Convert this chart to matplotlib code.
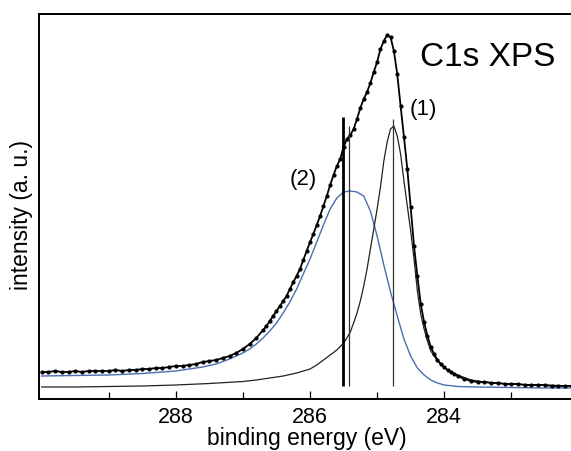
import matplotlib
matplotlib.use("Agg")
import matplotlib.pyplot as plt

plt.rcParams['font.family'] = ['Liberation Sans', 'DejaVu Sans']

# measured spectrum (binding energy in eV, intensity in a.u.)
data_energy = [
    290.0, 289.9, 289.8, 289.7, 289.6, 289.5, 289.4, 289.3, 289.2, 289.1,
    289.0, 288.9, 288.8, 288.7, 288.6, 288.5, 288.4, 288.3, 288.2, 288.1,
    288.0, 287.9, 287.8, 287.7, 287.6, 287.5, 287.4, 287.3, 287.2, 287.1,
    287.0, 286.9, 286.8, 286.7,
    286.65, 286.60, 286.55, 286.50, 286.45, 286.40, 286.35, 286.30, 286.25, 286.20,
    286.15, 286.10, 286.05, 286.00, 285.95, 285.90, 285.85, 285.80, 285.75, 285.70,
    285.65, 285.60, 285.55, 285.50, 285.45, 285.40, 285.35, 285.30, 285.25, 285.20,
    285.15, 285.10, 285.05, 285.00, 284.95, 284.90, 284.85, 284.80, 284.75, 284.70,
    284.65, 284.60, 284.55, 284.50, 284.45, 284.40, 284.35, 284.30, 284.25, 284.20,
    284.15, 284.10, 284.05, 284.00, 283.95, 283.90, 283.85, 283.80,
    283.7, 283.6, 283.5, 283.4, 283.3, 283.2, 283.1, 283.0, 282.9, 282.8,
    282.7, 282.6, 282.5, 282.4, 282.3, 282.2, 282.1,
]
data_intensity = [
    27, 27, 28, 27, 27, 28, 27, 28, 28, 28,
    28, 29, 28, 29, 29, 30, 30, 31, 31, 32,
    33, 33, 34, 35, 37, 38, 39, 41, 43, 46,
    50, 55, 61, 69,
    73, 78, 83, 88, 93, 98, 103, 110, 117, 123,
    130, 139, 148, 157, 165, 174, 183, 193, 203, 214,
    224, 233, 240, 252, 260, 264, 270, 280, 291, 300,
    307, 316, 327, 337, 350, 358, 364, 362, 348, 325,
    293, 262, 230, 192, 153, 123, 95, 77, 63, 52,
    45, 39, 35, 32, 29, 27, 25, 23,
    20, 18, 17, 17, 16, 16, 15, 15, 15, 14,
    14, 14, 14, 13, 13, 13, 13,
]

# fitted component (1)
peak1_energy = [
    290.0, 289.5, 289.0, 288.5, 288.0, 287.5, 287.0, 286.8, 286.6, 286.4,
    286.2, 286.0, 285.9, 285.8, 285.7, 285.6, 285.5, 285.45, 285.40, 285.35,
    285.30, 285.25, 285.20, 285.15, 285.10, 285.05, 285.00, 284.95, 284.90, 284.85,
    284.80, 284.75, 284.70, 284.65, 284.60, 284.55, 284.50, 284.45, 284.40, 284.35,
    284.30, 284.25, 284.20, 284.10, 284.00, 283.9, 283.8, 283.6, 283.4, 283.2,
    283.0, 282.8, 282.5, 282.1,
]
peak1_intensity = [
    12, 12, 12.5, 13, 14, 15.5, 17.5, 19, 21, 23,
    26, 30, 34, 39, 44, 49, 56, 61, 67, 76,
    86, 98, 113, 130, 150, 170, 190, 212, 238, 257,
    270, 273, 263, 245, 218, 193, 168, 140, 108, 85,
    70, 58, 48, 38, 31, 27, 24, 19, 17, 16,
    15, 14.5, 14, 13,
]

# fitted component (2)
peak2_energy = [
    290.0, 289.5, 289.0, 288.5, 288.0, 287.8, 287.6, 287.4, 287.2, 287.0,
    286.9, 286.8, 286.7, 286.6, 286.5, 286.4, 286.3, 286.2, 286.1, 286.0,
    285.9, 285.8, 285.7, 285.6, 285.5, 285.4, 285.3, 285.2, 285.1, 285.0,
    284.9, 284.8, 284.7, 284.6, 284.5, 284.4, 284.3, 284.2, 284.1, 284.0,
    283.8, 283.5, 283.0, 282.5, 282.1,
]
peak2_intensity = [
    23, 23.5, 24, 25.5, 28, 30, 32, 35, 40, 46,
    50, 55, 61, 68, 76, 86, 97, 110, 125, 140,
    157, 174, 190, 201, 207, 208, 207, 203, 188, 163,
    134, 107, 83, 60, 43, 31, 24, 19, 16, 14,
    12.5, 12, 11.5, 11, 11,
]

# peak position markers
marker_energy = [285.51, 285.42, 284.76]
marker_top = [282, 273, 280]
marker_bottom = 13

major_ticks = [288, 286, 284]
minor_ticks = [289, 287, 285, 283]

fig = plt.figure(figsize=(5.71, 4.52), dpi=100)
ax = fig.add_axes([39 / 571, 52 / 452, 532 / 571, 385 / 452])

ax.plot(peak2_energy, peak2_intensity, color='#4a6db0', lw=1.0)
ax.plot(peak1_energy, peak1_intensity, color='#222222', lw=0.9)
ax.plot(data_energy, data_intensity, color='black', lw=1.3,
        marker='o', ms=2.0, mfc='black', mec='black')

ax.vlines(marker_energy[0], marker_bottom, marker_top[0], color='black', lw=2.0)
ax.vlines(marker_energy[1:], marker_bottom, marker_top[1:], color='#333333', lw=0.9)

ax.text(284.36, 342, 'C1s XPS', fontsize=24, ha='left', va='center')
ax.text(284.51, 290, '(1)', fontsize=16, ha='left', va='center')
ax.text(286.30, 220, '(2)', fontsize=16, ha='left', va='center')

ax.set_xlim(290.04, 282.11)
ax.set_ylim(0, 385)
ax.set_xticks(major_ticks)
ax.set_xticks(minor_ticks, minor=True)
ax.set_yticks([])
ax.tick_params(axis='x', which='both', direction='in', top=False,
               labelsize=15.5, pad=5)
ax.tick_params(axis='x', which='major', length=6, width=0.9)
ax.tick_params(axis='x', which='minor', length=5, width=0.9)

for side in ['left', 'bottom', 'top']:
    ax.spines[side].set_linewidth(1.4)
ax.spines['right'].set_visible(False)

ax.set_xlabel('binding energy (eV)', fontsize=16.5)
ax.set_ylabel('intensity (a. u.)', fontsize=16.5)
ax.xaxis.set_label_coords(0.504, -0.071)
ax.yaxis.set_label_coords(-0.012, 0.48)

fig.savefig('out.png', dpi=100)
